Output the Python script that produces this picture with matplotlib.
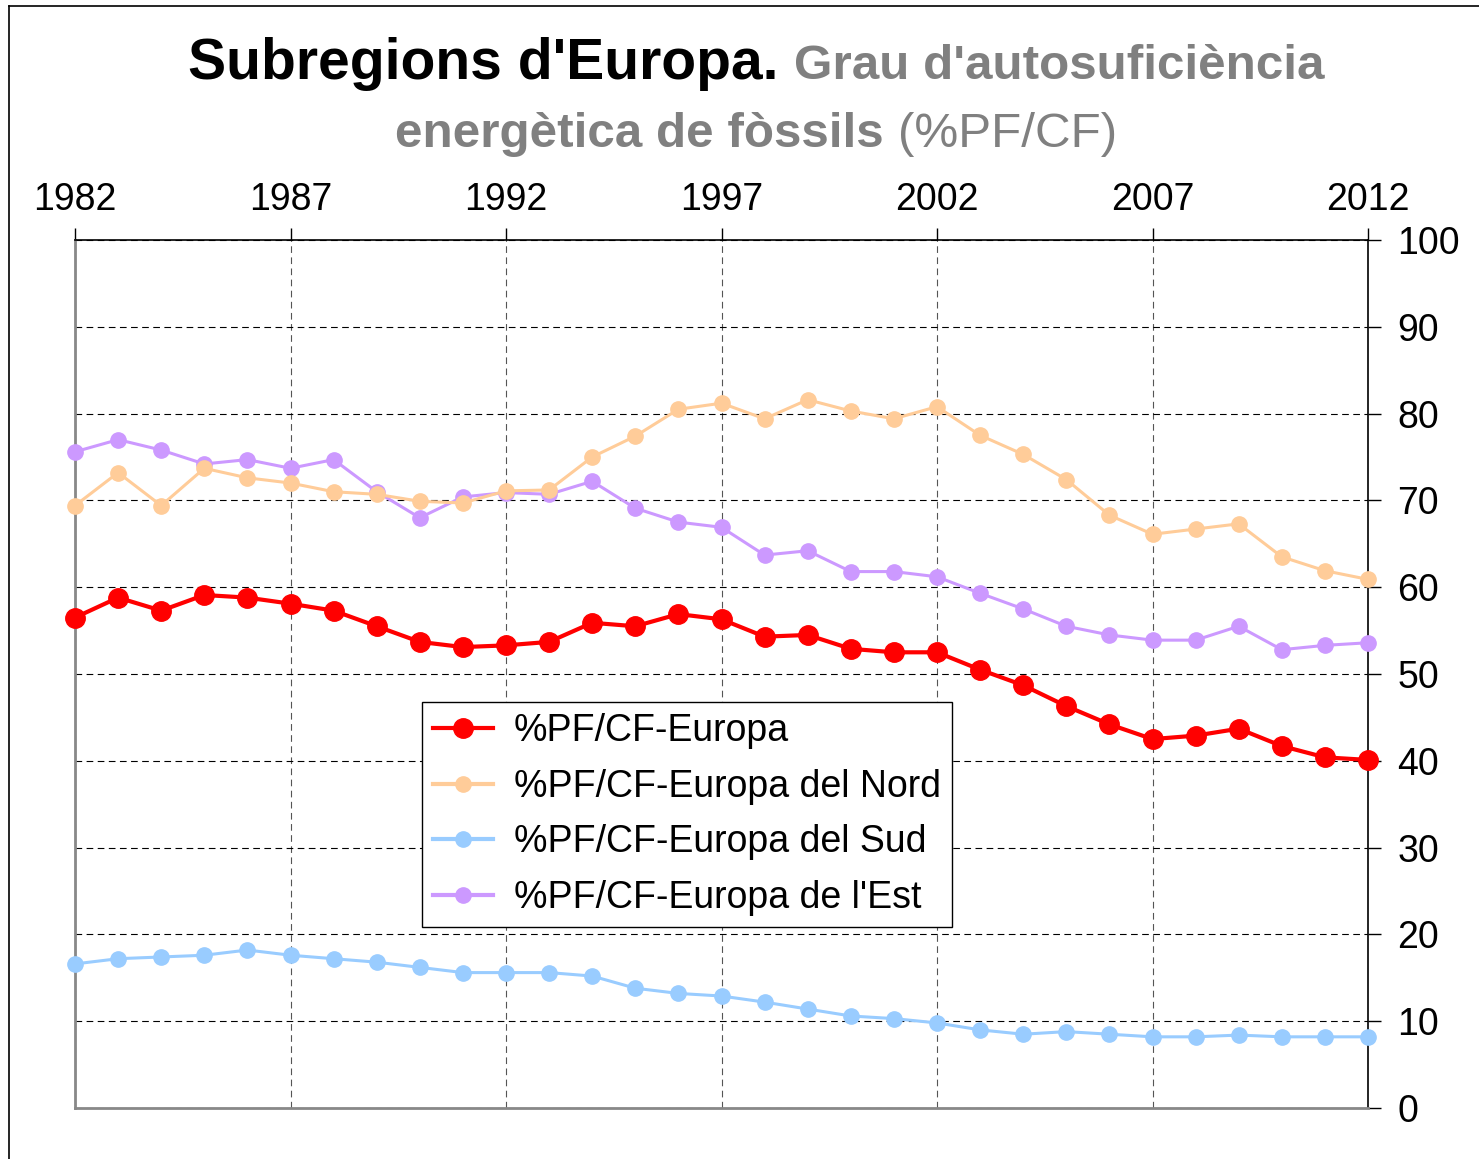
import matplotlib
matplotlib.use("Agg")
import matplotlib.pyplot as plt
from matplotlib.lines import Line2D

plt.rcParams['font.family'] = ['Liberation Sans', 'DejaVu Sans']

# Dades (llegides del gràfic)
anys = list(range(1982, 2013))
europa = [56.5, 58.8, 57.3, 59.1, 58.8, 58.1, 57.3, 55.5, 53.7, 53.1,
          53.3, 53.7, 55.9, 55.5, 56.9, 56.3, 54.3, 54.5, 52.9, 52.5,
          52.5, 50.5, 48.7, 46.3, 44.2, 42.5, 42.9, 43.7, 41.7, 40.4, 40.1]
nord = [69.4, 73.2, 69.4, 73.7, 72.6, 72.0, 71.0, 70.7, 69.9, 69.7,
        71.1, 71.2, 75.0, 77.4, 80.5, 81.2, 79.4, 81.6, 80.3, 79.4,
        80.8, 77.5, 75.3, 72.4, 68.3, 66.1, 66.7, 67.3, 63.5, 61.9, 60.9]
sud = [16.6, 17.2, 17.4, 17.6, 18.2, 17.6, 17.2, 16.8, 16.2, 15.6,
       15.6, 15.6, 15.2, 13.8, 13.2, 12.9, 12.2, 11.4, 10.6, 10.3,
       9.8, 9.0, 8.5, 8.8, 8.5, 8.2, 8.2, 8.4, 8.2, 8.2, 8.2]
est = [75.6, 77.0, 75.8, 74.2, 74.7, 73.7, 74.7, 71.0, 68.0, 70.4,
       70.9, 70.7, 72.2, 69.1, 67.5, 66.9, 63.7, 64.2, 61.8, 61.8,
       61.2, 59.3, 57.5, 55.5, 54.5, 53.9, 53.9, 55.5, 52.8, 53.3, 53.6]

series = [
    ('%PF/CF-Europa', europa, '#FF0000', 3.0, 14),
    ('%PF/CF-Europa del Nord', nord, '#FFCC99', 2.2, 11),
    ('%PF/CF-Europa del Sud', sud, '#99CCFF', 2.2, 11),
    ("%PF/CF-Europa de l'Est", est, '#CC99FF', 2.2, 11),
]

fig = plt.figure(figsize=(14.79, 11.59), dpi=100)
ax = fig.add_axes([75 / 1479, 1 - 1108 / 1159, (1368 - 75) / 1479, (1108 - 240) / 1159])

# dibuixar de baix cap amunt perquè Europa quedi per sobre
for nom, vals, col, lw, ms in reversed(series):
    ax.plot(anys, vals, color=col, lw=lw, marker='o', ms=ms, label=nom,
            clip_on=False, zorder=3)

ax.set_xlim(1982, 2012)
ax.set_ylim(0, 100)
ax.set_xticks(range(1982, 2013, 5))
ax.set_yticks(range(0, 101, 10))
ax.xaxis.tick_top()
ax.yaxis.tick_right()
ax.tick_params(axis='both', labelsize=27, direction='out', length=9, width=1)
ax.tick_params(axis='x', pad=6.5)
ax.tick_params(axis='y', pad=12)

ax.xaxis.grid(True, color='#555555', ls=(0, (6, 4)), lw=0.8)
ax.yaxis.grid(True, color='black', ls=(0, (6, 4)), lw=0.8)
ax.set_axisbelow(True)

ax.spines['left'].set_color('#888888')
ax.spines['left'].set_linewidth(2)
ax.spines['bottom'].set_color('#888888')
ax.spines['bottom'].set_linewidth(2)
ax.spines['top'].set_linewidth(1.2)
ax.spines['right'].set_linewidth(1.2)

handles, labels = ax.get_legend_handles_labels()
leg = ax.legend(handles[::-1], labels[::-1], loc='lower left',
                bbox_to_anchor=((422 - 75) / 1293, (1108 - 927) / 868),
                borderaxespad=0, fontsize=27, fancybox=False, framealpha=1,
                edgecolor='black', handlelength=1.6, handletextpad=0.55,
                labelspacing=0.52, borderpad=0.3)
leg.get_frame().set_linewidth(1.0)
leg.set_zorder(5)
for h in leg.get_lines():
    h.set_linewidth(3.0)

# Títol amb estils barrejats
fig.canvas.draw()
r = fig.canvas.get_renderer()

def linia(parts, y):
    txts = [fig.text(0, y, s, fontsize=fs, fontweight=fw, color=c, va='baseline')
            for s, fs, fw, c in parts]
    amples = [t.get_window_extent(r).width for t in txts]
    x_px = 756 - sum(amples) / 2
    for t, w in zip(txts, amples):
        t.set_x(x_px / 1479)
        x_px += w

linia([("Subregions d'Europa. ", 41, 'bold', 'black'),
       ("Grau d'autosuficiència", 35.6, 'bold', '#808080')], 1 - 79 / 1159)
linia([("energètica de fòssils ", 35.6, 'bold', '#808080'),
       ("(%PF/CF)", 35.6, 'normal', '#808080')], 1 - 147 / 1159)

# marc exterior
fig.add_artist(Line2D([9 / 1479, 9 / 1479], [0, 1 - 6 / 1159], color='black', lw=1.2))
fig.add_artist(Line2D([9 / 1479, 1], [1 - 6 / 1159, 1 - 6 / 1159], color='black', lw=1.2))

fig.savefig('out.png', dpi=100)
